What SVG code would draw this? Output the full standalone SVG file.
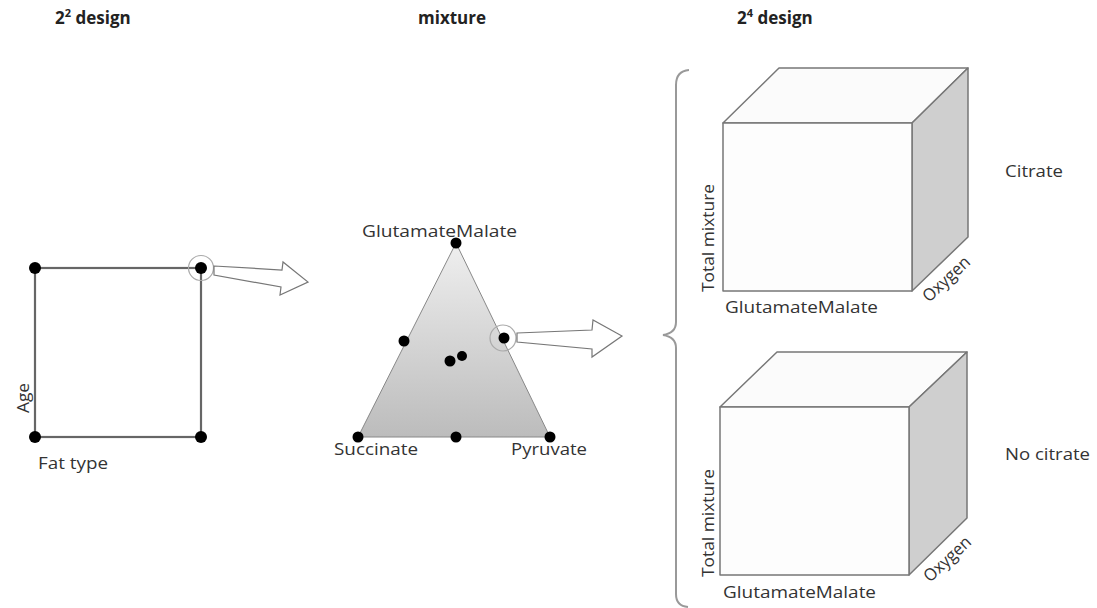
<svg xmlns="http://www.w3.org/2000/svg" width="1097" height="608" viewBox="0 0 1097 608">
  <defs>
    <linearGradient id="triFill" x1="0" y1="0" x2="0" y2="1">
      <stop offset="0" stop-color="#efefef"/>
      <stop offset="1" stop-color="#bcbcbc"/>
    </linearGradient>
    <style>
      .hdr { font-family: "Open Sans", "Liberation Sans", sans-serif; font-weight: bold; font-size: 17px; fill: #222; }
      .lbl { font-family: "Open Sans", "Liberation Sans", sans-serif; font-size: 17px; fill: #333; }
      .dot { fill: #000; }
      .ring { fill: none; stroke: #aaa; stroke-width: 1.2; }
      .edge { fill: none; stroke: #666; stroke-width: 2.2; }
      .arrow { fill: #fff; stroke: #777; stroke-width: 1.2; stroke-linejoin: miter; }
      .face { stroke: #777; stroke-width: 1.5; stroke-linejoin: round; }
      .brace { fill: none; stroke: #999; stroke-width: 2; }
    </style>
  </defs>

  <!-- column headings -->
  <g id="headings">
    <text class="hdr" x="55" y="24">2<tspan font-size="11" dy="-7">2</tspan><tspan dy="7"> design</tspan></text>
    <text class="hdr" x="418" y="24">mixture</text>
    <text class="hdr" x="737" y="24">2<tspan font-size="11" dy="-7">4</tspan><tspan dy="7"> design</tspan></text>
  </g>

  <!-- 2x2 factorial square -->
  <g id="square-design">
    <rect class="edge" x="35" y="268" width="166" height="169"/>
    <circle class="dot" cx="35" cy="268" r="6"/>
    <circle class="dot" cx="201" cy="268" r="6"/>
    <circle class="dot" cx="35" cy="437" r="6"/>
    <circle class="dot" cx="201" cy="437" r="6"/>
    <circle class="ring" cx="201" cy="268" r="12.5"/>
    <text class="lbl" x="38" y="469" textLength="70" lengthAdjust="spacingAndGlyphs">Fat type</text>
    <text class="lbl" transform="translate(29,413) rotate(-90)" textLength="30" lengthAdjust="spacingAndGlyphs">Age</text>
  </g>

  <!-- mixture simplex -->
  <g id="mixture-triangle">
    <polygon points="456,243 358,437 550,437" fill="url(#triFill)" stroke="#888" stroke-width="1"/>
    <circle class="dot" cx="456" cy="243" r="5.5"/>
    <circle class="dot" cx="358" cy="437" r="5.5"/>
    <circle class="dot" cx="550" cy="437" r="5.5"/>
    <circle class="dot" cx="456" cy="437" r="5.5"/>
    <circle class="dot" cx="404" cy="341" r="5.5"/>
    <circle class="dot" cx="504" cy="338" r="5.5"/>
    <circle class="dot" cx="450" cy="361" r="5.5"/>
    <circle class="dot" cx="462" cy="356" r="5"/>
    <circle class="ring" cx="503" cy="338" r="13"/>
    <text class="lbl" x="362" y="237" textLength="155" lengthAdjust="spacingAndGlyphs">GlutamateMalate</text>
    <text class="lbl" x="334" y="455" textLength="84" lengthAdjust="spacingAndGlyphs">Succinate</text>
    <text class="lbl" x="511" y="455" textLength="76" lengthAdjust="spacingAndGlyphs">Pyruvate</text>
  </g>

  <!-- block arrows and grouping brace -->
  <g id="connectors">
    <polygon class="arrow" points="214,266 282,270 283,262 308,282 280,295 281,287 214,275"/>
    <polygon class="arrow" points="517,333 592,330 593,320 622,336 592,357 592,349 517,342"/>
    <path class="brace" d="M689,70 Q676,71 676,85 L676,322 Q676,333 663,335 Q676,337 676,348 L676,594 Q676,606 688,607"/>
  </g>

  <!-- upper cube: with citrate -->
  <g id="cube-citrate">
    <polygon class="face" points="723,123 779,68 968,68 912,123" fill="#fbfbfb"/>
    <polygon class="face" points="912,123 968,68 968,237 912,291" fill="#cfcfcf"/>
    <rect class="face" x="723" y="123" width="189" height="168" fill="#fdfdfd"/>
    <text class="lbl" transform="translate(714,292) rotate(-90)" textLength="108" lengthAdjust="spacingAndGlyphs">Total mixture</text>
    <text class="lbl" x="725" y="313" textLength="153" lengthAdjust="spacingAndGlyphs">GlutamateMalate</text>
    <text class="lbl" transform="translate(929,303) rotate(-43)" textLength="58" lengthAdjust="spacingAndGlyphs">Oxygen</text>
    <text class="lbl" x="1005" y="177" textLength="58" lengthAdjust="spacingAndGlyphs">Citrate</text>
  </g>

  <!-- lower cube: without citrate -->
  <g id="cube-no-citrate">
    <polygon class="face" points="720,407 777,352 967,352 909,407" fill="#fbfbfb"/>
    <polygon class="face" points="909,407 967,352 967,518 909,575" fill="#cfcfcf"/>
    <rect class="face" x="720" y="407" width="189" height="168" fill="#fdfdfd"/>
    <text class="lbl" transform="translate(714,577) rotate(-90)" textLength="108" lengthAdjust="spacingAndGlyphs">Total mixture</text>
    <text class="lbl" x="723" y="598" textLength="153" lengthAdjust="spacingAndGlyphs">GlutamateMalate</text>
    <text class="lbl" transform="translate(930,583) rotate(-43)" textLength="58" lengthAdjust="spacingAndGlyphs">Oxygen</text>
    <text class="lbl" x="1005" y="460" textLength="85" lengthAdjust="spacingAndGlyphs">No citrate</text>
  </g>
</svg>
